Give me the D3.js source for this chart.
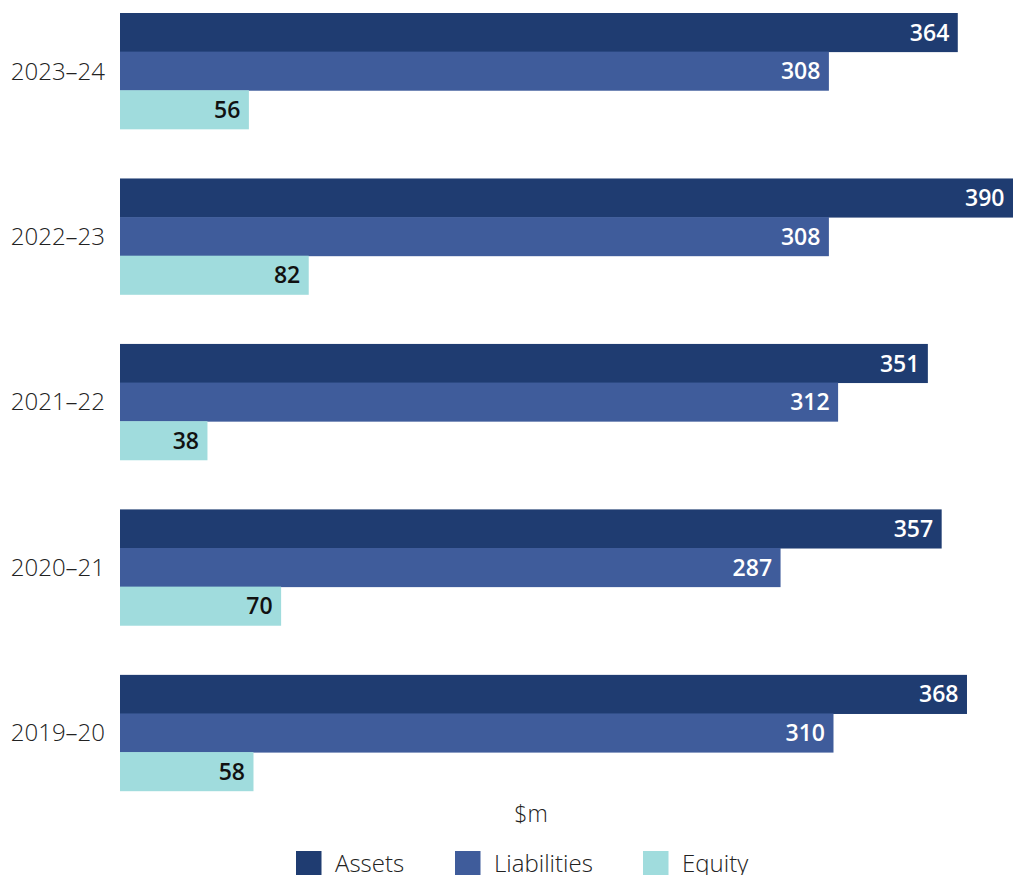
<!DOCTYPE html>
<html><head><meta charset="utf-8">
<script src="https://cdn.jsdelivr.net/npm/d3@7"></script>
<style>body{margin:0;background:#fff}svg{display:block}</style>
</head><body>
<svg id="c" width="1013" height="875"></svg>
<script>
const years = ["2023–24","2022–23","2021–22","2020–21","2019–20"];
const series = ["Assets","Liabilities","Equity"];
const assets = [364,390,351,357,368];
const liabilities = [308,308,312,287,310];
const equity = [56,82,38,70,58];
const colors = ["#1F3C71","#3F5C9B","#A0DCDD"];
const labelColors = ["#ffffff","#ffffff","#111111"];

const values = [assets, liabilities, equity];
const svg = d3.select("#c");
const x = d3.scaleLinear().domain([0,400]).range([120, 120 + 400*2.3016]);
const y = d3.scaleBand().domain(years).range([13, 790.7]).paddingInner(0.3).paddingOuter(0);
const ys = d3.scaleBand().domain(series).range([0, y.bandwidth()]);

const data = [];
years.forEach((yr,i)=>series.forEach((s,j)=>data.push({yr, s, j, v: values[j][i]})));

svg.selectAll("rect.bar").data(data).join("rect")
  .attr("x", x(0)).attr("y", d=>y(d.yr)+ys(d.s))
  .attr("width", d=>x(d.v)-x(0)).attr("height", ys.bandwidth()+0.5)
  .attr("fill", d=>colors[d.j]);

svg.selectAll("text.val").data(data).join("text")
  .attr("x", d=>Math.min(x(d.v), 1013)-8.5)
  .attr("y", d=>y(d.yr)+ys(d.s)+ys.bandwidth()/2)
  .attr("dy","0.36em")
  .attr("text-anchor","end")
  .attr("font-family","'Open Sans'").attr("font-weight",600).attr("font-size",23)
  .attr("fill", d=>labelColors[d.j])
  .text(d=>d.v);

const yAxis = d3.axisLeft(y).tickSize(0).tickPadding(15);
const ga = svg.append("g").attr("transform","translate(120,0)").call(yAxis);
ga.select(".domain").remove();
ga.selectAll("text").attr("font-family","'Open Sans'").attr("font-weight",300)
  .attr("font-size",24).attr("fill","#222").attr("dy","0.36em");

svg.append("text").attr("x",531).attr("y",822).attr("text-anchor","middle")
  .attr("font-family","'Open Sans'").attr("font-weight",300).attr("font-size",23)
  .attr("fill","#222").text("$m");

const legX = [296, 455, 643];
const lg = svg.selectAll("g.leg").data(series).join("g")
  .attr("transform",(d,i)=>`translate(${legX[i]},851)`);
lg.append("rect").attr("width",25.5).attr("height",25.5).attr("fill",(d,i)=>colors[i]);
lg.append("text").attr("x",39).attr("y",21).attr("font-family","'Open Sans'").attr("font-weight",300)
  .attr("font-size",24).attr("fill","#222").text(d=>d);
</script>
</body></html>
